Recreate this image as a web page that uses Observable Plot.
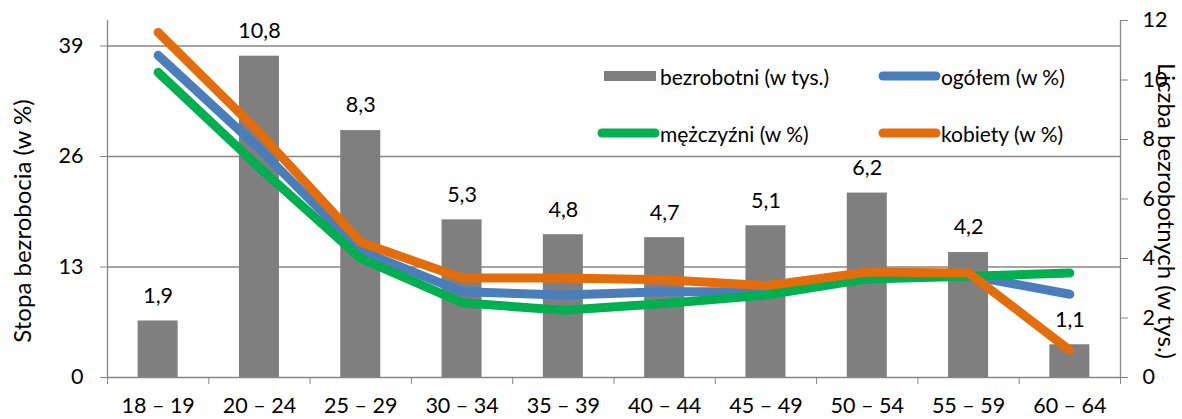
<!DOCTYPE html>
<html>
<head>
<meta charset="utf-8">
<script src="https://cdn.jsdelivr.net/npm/d3@7"></script>
<script src="https://cdn.jsdelivr.net/npm/@observablehq/plot@0.6"></script>
<style>
  html, body { margin: 0; padding: 0; background: #fff; }
  #wrap { position: relative; width: 1182px; height: 419px; font-family: Lato, sans-serif; }
  #legend { position: absolute; left: 0; top: 0; font-size: 21px; color: #000; }
  .item { position: absolute; display: flex; align-items: center; white-space: nowrap; height: 24px; }
  .item svg { display: block; }
</style>
</head>
<body>
<div id="wrap"><div id="legend"></div></div>
<script>
// ---- data ----
const categories = ["18 – 19", "20 – 24", "25 – 29", "30 – 34", "35 – 39", "40 – 44", "45 – 49", "50 – 54", "55 – 59", "60 – 64"];
const bezrobotni = [1.9, 10.8, 8.3, 5.3, 4.8, 4.7, 5.1, 6.2, 4.2, 1.1];      // w tys.
const ogolem     = [37.9, 26.9, 14.9, 10.1, 9.7, 10.1, 10.1, 12.0, 12.0, 9.8]; // w %
const mezczyzni  = [35.9, 24.7, 14.0, 8.8, 7.9, 8.7, 9.7, 11.6, 11.9, 12.3];  // w %
const kobiety    = [40.6, 28.8, 15.9, 11.7, 11.7, 11.5, 10.8, 12.4, 12.3, 3.2]; // w %
const leftTicks  = [0, 13, 26, 39];
const rightTicks = [0, 2, 4, 6, 8, 10, 12];
const leftMax = 42, rightMax = 12;
const seriesNames = ["bezrobotni (w tys.)", "ogółem (w %)", "mężczyźni (w %)", "kobiety (w %)"];
const leftTitle = "Stopa bezrobocia (w %)";
const rightTitle = "Liczba bezrobotnych (w tys.)";

// ---- styles ----
const colBar = "#7f7f7f", colBlue = "#4a7ebb", colGreen = "#00b050", colOrange = "#e46c0a";
const axisGray = "#868686";
const k = leftMax / rightMax;     // right-axis units -> left-axis units
const barW = 0.395;               // bar width as share of a category slot
const fs = 21.5, titleFs = 24;

const cx = (d, i) => i + 0.5;
const lineOpts = (color) => ({x: cx, y: d => d, stroke: color, strokeWidth: 9, strokeLinecap: "round", strokeLinejoin: "round"});

const chart = Plot.plot({
  width: 1182, height: 419,
  marginLeft: 107, marginRight: 62, marginTop: 20, marginBottom: 42,
  style: {fontFamily: "Lato, sans-serif", fontSize: fs + "px", color: "#000", background: "transparent", overflow: "visible"},
  x: {type: "linear", domain: [0, categories.length]},
  y: {domain: [0, leftMax]},
  marks: [
    Plot.ruleY(leftTicks.slice(1), {stroke: axisGray, strokeWidth: 1.3}),
    Plot.rectY(bezrobotni, {x1: (d, i) => i + 0.5 - barW / 2, x2: (d, i) => i + 0.5 + barW / 2, y1: 0, y2: d => d * k, fill: colBar}),
    Plot.text(bezrobotni, {x: cx, y: d => d * k, text: d => d.toFixed(1).replace(".", ","), dy: -25, lineAnchor: "middle", fontSize: fs, fill: "#000"}),
    Plot.lineY(ogolem, lineOpts(colBlue)),
    Plot.lineY(mezczyzni, lineOpts(colGreen)),
    Plot.lineY(kobiety, lineOpts(colOrange)),
    Plot.ruleY([0], {stroke: axisGray, strokeWidth: 1.3}),
    Plot.ruleX([0, categories.length], {stroke: axisGray, strokeWidth: 1.3}),
    Plot.axisY({anchor: "left", ticks: leftTicks, tickSize: 7, tickPadding: 17, stroke: axisGray, fill: "#000", label: null, fontSize: fs}),
    Plot.axisY({anchor: "right", ticks: rightTicks.map(v => v * k), tickFormat: d => String(Math.round(d / k)), tickSize: 7, tickPadding: 15, stroke: axisGray, fill: "#000", label: null, fontSize: fs}),
    Plot.axisX({ticks: d3.range(categories.length + 1), tickFormat: () => "", tickSize: 7, stroke: axisGray, label: null}),
    Plot.axisX({ticks: categories.map((c, i) => i + 0.5), tickFormat: d => categories[Math.floor(d)], tickSize: 0, tickPadding: 20, fill: "#000", label: null, fontSize: fs}),
    Plot.text([leftTitle], {frameAnchor: "left", textAnchor: "middle", lineAnchor: "middle", dx: -84, dy: 22, rotate: -90, fontSize: titleFs, fill: "#000"}),
    Plot.text([rightTitle], {frameAnchor: "right", textAnchor: "middle", lineAnchor: "middle", dx: 45, dy: 12, rotate: 90, fontSize: titleFs, fill: "#000"})
  ]
});
document.getElementById("wrap").prepend(chart);

// ---- legend (inside plot area, HTML overlay) ----
const legendItems = [
  {name: seriesNames[0], kind: "rect", color: colBar, left: 604, top: 64},
  {name: seriesNames[1], kind: "line", color: colBlue, left: 878, top: 64},
  {name: seriesNames[2], kind: "line", color: colGreen, left: 597, top: 121},
  {name: seriesNames[3], kind: "line", color: colOrange, left: 878, top: 121}
];
const leg = d3.select("#legend");
for (const it of legendItems) {
  const div = leg.append("div").attr("class", "item").style("left", it.left + "px").style("top", it.top + "px");
  const sw = div.append("svg").attr("width", it.kind === "rect" ? 56 : 63).attr("height", 24);
  if (it.kind === "rect") sw.append("rect").attr("x", 0).attr("y", 7).attr("width", 52).attr("height", 10).attr("fill", it.color);
  else sw.append("line").attr("x1", 5).attr("x2", 58).attr("y1", 12).attr("y2", 12).attr("stroke", it.color).attr("stroke-width", 9).attr("stroke-linecap", "round");
  div.append("span").text(it.name);
}
</script>
</body>
</html>
